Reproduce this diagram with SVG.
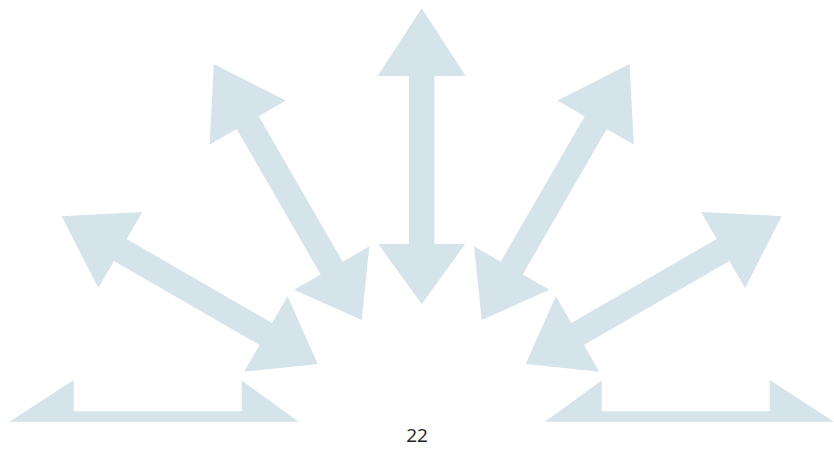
<svg xmlns="http://www.w3.org/2000/svg" xmlns:xlink="http://www.w3.org/1999/xlink" width="834" height="451" viewBox="0 0 834 451">
  <style>
    .arrow { fill: #d5e3ea; stroke: none; }
    .label { font-family: "Open Sans", "Noto Sans", "Liberation Sans", sans-serif; font-size: 19px; fill: #222222; }
  </style>
  <defs>
    <polygon id="dblArrow" class="arrow" points="0,-415.7 44,-348 12.7,-348 12.7,-180 43.5,-180 0,-120 -43.5,-180 -12.7,-180 -12.7,-348 -44,-348"/>
    <clipPath id="cut">
      <rect x="0" y="0" width="834" height="421.7"/>
    </clipPath>
  </defs>
  <rect x="0" y="0" width="834" height="451" fill="#ffffff"/>
  <g id="arrows" clip-path="url(#cut)">
    <g id="arrow-m90" transform="translate(421.7,424) rotate(-90)"><use xlink:href="#dblArrow" href="#dblArrow"/></g>
    <g id="arrow-m60" transform="translate(421.7,424) rotate(-60)"><use xlink:href="#dblArrow" href="#dblArrow"/></g>
    <g id="arrow-m30" transform="translate(421.7,424) rotate(-30)"><use xlink:href="#dblArrow" href="#dblArrow"/></g>
    <g id="arrow-0" transform="translate(421.7,424)"><use xlink:href="#dblArrow" href="#dblArrow"/></g>
    <g id="arrow-p30" transform="translate(421.7,424) rotate(30)"><use xlink:href="#dblArrow" href="#dblArrow"/></g>
    <g id="arrow-p60" transform="translate(421.7,424) rotate(60)"><use xlink:href="#dblArrow" href="#dblArrow"/></g>
    <g id="arrow-p90" transform="translate(421.7,424) rotate(90)"><use xlink:href="#dblArrow" href="#dblArrow"/></g>
  </g>
  <g id="page-number">
    <text class="label" x="417" y="441.5" text-anchor="middle">22</text>
  </g>
</svg>
